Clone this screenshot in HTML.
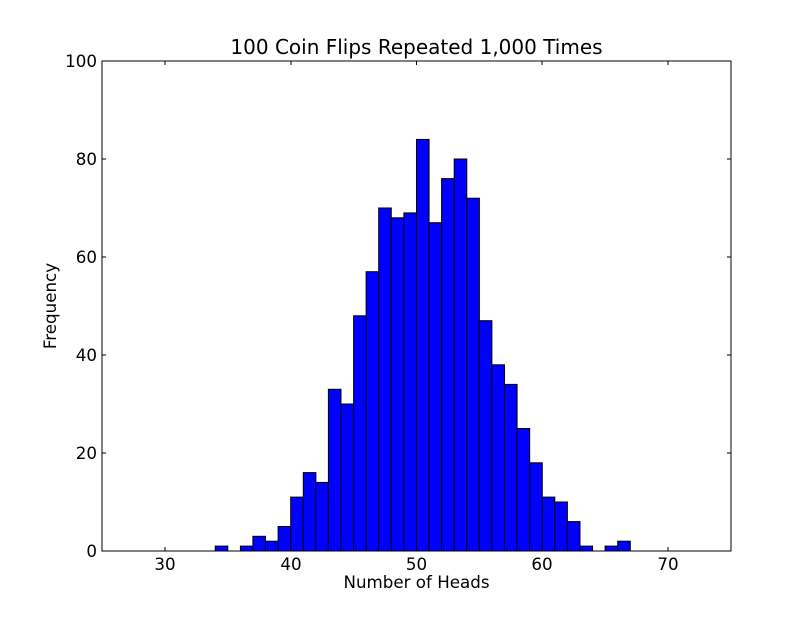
<!DOCTYPE html>
<html><head><style>body{margin:0;background:#fff}</style></head><body>
<svg width="812" height="612" xmlns="http://www.w3.org/2000/svg" font-family="DejaVu Sans, Liberation Sans, sans-serif">
<rect width="812" height="612" fill="#fff"/>
<g fill="#0000ff" stroke="#000" stroke-width="1">
<rect x="215.2" y="546.1" width="12.58" height="4.9"/>
<rect x="240.4" y="546.1" width="12.58" height="4.9"/>
<rect x="252.9" y="536.3" width="12.58" height="14.7"/>
<rect x="265.5" y="541.2" width="12.58" height="9.8"/>
<rect x="278.1" y="526.5" width="12.58" height="24.5"/>
<rect x="290.7" y="497.1" width="12.58" height="53.9"/>
<rect x="303.3" y="472.6" width="12.58" height="78.4"/>
<rect x="315.8" y="482.4" width="12.58" height="68.6"/>
<rect x="328.4" y="389.3" width="12.58" height="161.7"/>
<rect x="341.0" y="404.0" width="12.58" height="147"/>
<rect x="353.6" y="315.8" width="12.58" height="235.2"/>
<rect x="366.1" y="271.7" width="12.58" height="279.3"/>
<rect x="378.7" y="208.0" width="12.58" height="343"/>
<rect x="391.3" y="217.8" width="12.58" height="333.2"/>
<rect x="403.9" y="212.9" width="12.58" height="338.1"/>
<rect x="416.5" y="139.4" width="12.58" height="411.6"/>
<rect x="429.0" y="222.7" width="12.58" height="328.3"/>
<rect x="441.6" y="178.6" width="12.58" height="372.4"/>
<rect x="454.2" y="159.0" width="12.58" height="392"/>
<rect x="466.8" y="198.2" width="12.58" height="352.8"/>
<rect x="479.3" y="320.7" width="12.58" height="230.3"/>
<rect x="491.9" y="364.8" width="12.58" height="186.2"/>
<rect x="504.5" y="384.4" width="12.58" height="166.6"/>
<rect x="517.1" y="428.5" width="12.58" height="122.5"/>
<rect x="529.7" y="462.8" width="12.58" height="88.2"/>
<rect x="542.2" y="497.1" width="12.58" height="53.9"/>
<rect x="554.8" y="502.0" width="12.58" height="49"/>
<rect x="567.4" y="521.6" width="12.58" height="29.4"/>
<rect x="580.0" y="546.1" width="12.58" height="4.9"/>
<rect x="605.1" y="546.1" width="12.58" height="4.9"/>
<rect x="617.7" y="541.2" width="12.58" height="9.8"/>
</g>
<rect x="102" y="61" width="629" height="490" fill="none" stroke="#000" stroke-width="1"/>
<g stroke="#000" stroke-width="1">
<path d="M165 551v-4M165 61v4M291 551v-4M291 61v4M416.5 551v-4M416.5 61v4M542 551v-4M542 61v4M668 551v-4M668 61v4"/>
<path d="M102 453h4M731 453h-4M102 355h4M731 355h-4M102 257h4M731 257h-4M102 159h4M731 159h-4"/>
</g>
<g font-size="16.7" fill="#000" text-anchor="middle">
<text x="165" y="570">30</text><text x="291" y="570">40</text><text x="416.5" y="570">50</text><text x="542" y="570">60</text><text x="668" y="570">70</text>
</g>
<g font-size="16.7" fill="#000" text-anchor="end">
<text x="97" y="557">0</text><text x="97" y="459">20</text><text x="97" y="361">40</text><text x="97" y="263">60</text><text x="97" y="165">80</text><text x="97" y="67">100</text>
</g>
<text x="416.5" y="588" font-size="16.7" text-anchor="middle">Number of Heads</text>
<text x="56" y="306" font-size="16.7" text-anchor="middle" transform="rotate(-90 56 306)">Frequency</text>
<text x="416.5" y="54" font-size="20" text-anchor="middle">100 Coin Flips Repeated 1,000 Times</text>
</svg>
</body></html>
